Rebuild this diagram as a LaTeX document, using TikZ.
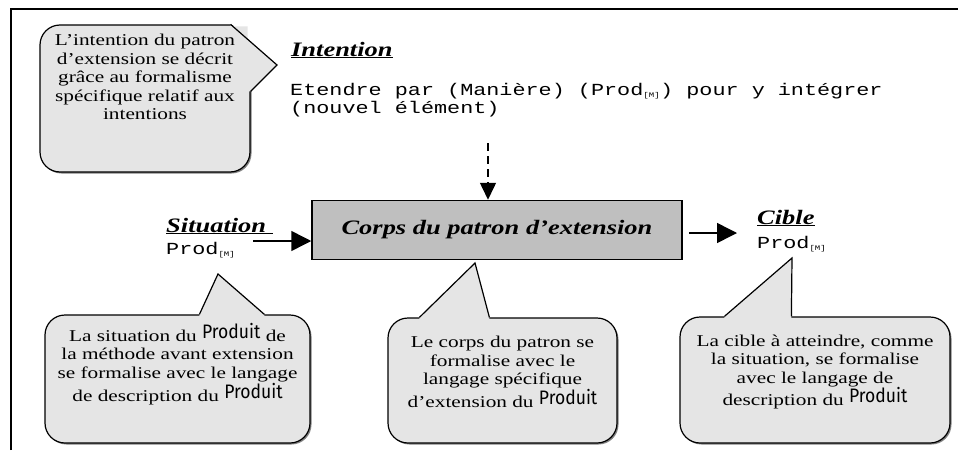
\documentclass[tikz,border=0pt]{standalone}
\usepackage{fontspec}
\setmainfont[FakeStretch=1.29]{Liberation Serif}
\setmonofont[FakeStretch=1.29]{Liberation Mono}
\newfontfamily\handfont[FakeStretch=0.9]{Fira Sans}
\usepackage{tikz}
\usetikzlibrary{arrows.meta}
\usetikzlibrary{calc}
\usetikzlibrary{shadows}
\definecolor{bubblegray}{gray}{0.9}
\definecolor{boxgray}{gray}{0.75}
\newcommand{\bodyfont}{\fontsize{16.5}{18.6}\selectfont}
\newcommand{\headfont}{\fontsize{20.5}{23}\selectfont\bfseries\itshape}
\newcommand{\codefont}{\ttfamily\fontsize{16.9}{18.6}\selectfont}
\newcommand{\produit}{\raisebox{3pt}{\handfont\fontsize{19.5}{19.5}\selectfont Produit}}
\newcommand{\prodM}{Prod\textsubscript{\fontsize{7}{7}\selectfont[M]}}
\tikzset{frame/.style={draw, line width=1.2pt}}
\tikzset{bubble/.style={draw, line width=1.2pt, fill=bubblegray, rounded corners=20pt, drop shadow={shadow xshift=1.5pt, shadow yshift=-1.5pt, fill=gray, opacity=1}}}
\tikzset{bubbleline/.style={line width=1.2pt}}
\tikzset{notetext/.style={align=center, font=\bodyfont, inner sep=0pt}}
\tikzset{head/.style={font=\headfont, inner sep=0pt}}
\tikzset{code/.style={font=\codefont, inner sep=0pt}}
\tikzset{corpsbox/.style={draw, line width=1.5pt, fill=boxgray, font=\headfont}}
\tikzset{flow/.style={line width=1.5pt, -{Triangle[length=20pt, width=20pt]}}}

\begin{document}
\begin{tikzpicture}[x=1pt, y=-1pt]
\useasboundingbox (0,0) rectangle (958,450);

\draw[frame] (11,450) -- (11,9) -- (958,9);

% bulles
\node[bubble, minimum width=210pt, minimum height=147pt] (noteIntention) at (145,98.5) {};
\node[bubble, minimum width=265pt, minimum height=128pt] (noteSituation) at (177.5,379) {};
\node[bubble, minimum width=229pt, minimum height=125pt] (noteCorps) at (502.5,380.5) {};
\node[bubble, minimum width=270pt, minimum height=126pt] (noteCible) at (815,380) {};

% pointes
\coordinate (intA) at ($(noteIntention.north east)+(-20,0)$);
\coordinate (intTip) at (277,65);
\coordinate (intB) at ($(noteIntention.north east)+(0,67)$);
\fill[white] ($(intA)+(-1,-2)$) -- ($(intA)+(24,-2)$) -- ($(intA)+(24,20.4)$) -- cycle;
\fill[bubblegray] (intA) -- (intTip) -- (intB) -- ($(intB)+(-3,0)$) -- ($(intA)+(17,2)$) -- ($(intA)+(0,2)$) -- cycle;
\draw[bubbleline] (intA) -- (intTip) -- (intB);

\coordinate (sitL) at ($(noteSituation.north west)+(155,0)$);
\coordinate (sitTip) at (218,274);
\coordinate (sitR) at ($(noteSituation.north west)+(220,0)$);
\fill[bubblegray] ($(sitL)+(0,2)$) -- (sitL) -- (sitTip) -- (sitR) -- ($(sitR)+(0,2)$) -- cycle;
\draw[bubbleline] (sitL) -- (sitTip) -- (sitR);

\coordinate (corpsL) at ($(noteCorps.north west)+(32,0)$);
\coordinate (corpsTip) at (475,263);
\coordinate (corpsR) at ($(noteCorps.north west)+(102,0)$);
\fill[bubblegray] ($(corpsL)+(0,2)$) -- (corpsL) -- (corpsTip) -- (corpsR) -- ($(corpsR)+(0,2)$) -- cycle;
\draw[bubbleline] (corpsL) -- (corpsTip) -- (corpsR);

\coordinate (cibleL) at ($(noteCible.north west)+(45,0)$);
\coordinate (cibleTip) at (792,258);
\coordinate (cibleR) at ($(noteCible.north west)+(112,0)$);
\fill[bubblegray] ($(cibleL)+(0,2)$) -- (cibleL) -- (cibleTip) -- (cibleR) -- ($(cibleR)+(0,2)$) -- cycle;
\draw[bubbleline] (cibleL) -- (cibleTip) -- (cibleR);

\node[notetext] (txtIntention) at (145,77) {L’intention du patron\\d’extension se décrit\\grâce au formalisme\\spécifique relatif aux\\intentions};
\node[notetext] (txtSituation) at (177.5,364) {La situation du \produit{} de\\la méthode avant extension\\se formalise avec le langage\\de description du \produit};
\node[notetext] (txtCorps) at (502.5,372) {Le corps du patron se\\formalise avec le\\langage spécifique\\d’extension du \produit};
\node[notetext] (txtCible) at (815,372) {La cible à atteindre, comme\\la situation, se formalise\\avec le langage de\\description du \produit};

% intention
\node[head, anchor=base west] (intentHead) at (291,56) {\underline{Intention}};
\node[code, anchor=base west] (intentLineA) at (290,95) {Etendre par (Manière) (\prodM) pour y intégrer};
\node[code, anchor=base west] (intentLineB) at (290,113.5) {(nouvel élément)};

% corps
\node[corpsbox, minimum width=370pt, minimum height=59pt] (corps) at (497,230) {Corps du patron d’extension};

\node[head, anchor=base west] (sitHead) at (166,232) {\underline{Situation~}};
\node[code, anchor=base west] (sitProd) at (166,254) {\prodM};
\node[head, anchor=base west] (cibleHead) at (757,224) {\underline{Cible}};
\node[code, anchor=base west] (cibleProd) at (757,248) {\prodM};

\coordinate (intentDrop) at (488,143);
\draw[flow, -{Triangle[length=17pt, width=16pt]}, dash pattern=on 8pt off 5pt] (intentDrop) -- (intentDrop |- corps.north);

\coordinate (sitStart) at (253,241);
\draw[flow] (sitStart) -- (sitStart -| corps.west);

\coordinate (cibleEnd) at (737,233);
\coordinate (corpsOut) at ($(corps.east |- cibleEnd)+(6,0)$);
\draw[flow] (corpsOut) -- (cibleEnd);

\end{tikzpicture}
\end{document}
